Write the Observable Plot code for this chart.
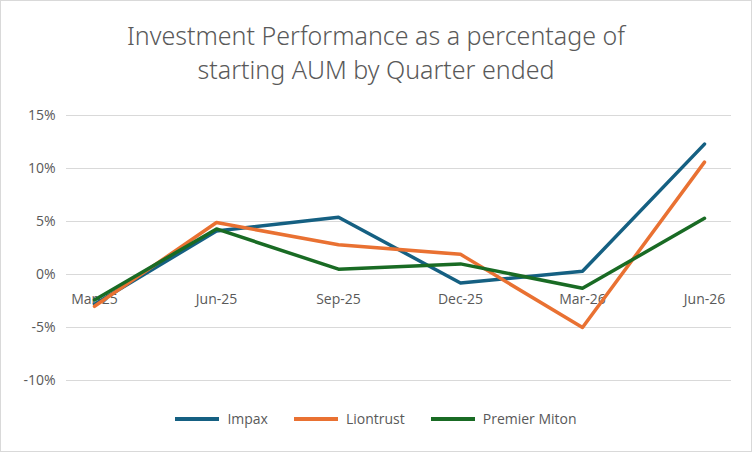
<!DOCTYPE html>
<html><head><meta charset="utf-8">
<script src="https://cdn.jsdelivr.net/npm/d3@7"></script>
<script src="https://cdn.jsdelivr.net/npm/@observablehq/plot@0.6"></script>
<style>
body{margin:0;font-family:"Open Sans",sans-serif;}
#c{width:750px;height:450px;border:1px solid #d9d9d9;background:#fff;position:relative;overflow:hidden}
#t{height:100px;text-align:center;color:#595959;font-size:25px;line-height:34px;padding-top:17px;box-sizing:border-box;font-family:"Noto Sans",sans-serif;font-weight:300}
#l{display:flex;justify-content:center;gap:26px;font-size:14px;color:#595959;margin-top:8px}
#l span{display:flex;align-items:center;gap:8px}
#l i{display:inline-block;width:44px;height:4px}
</style></head><body>
<div id="c"><div id="t">Investment Performance as a percentage of<br>starting AUM by Quarter ended</div><div id="p"></div><div id="l"></div></div>
<script>
const quarters=["Mar-25","Jun-25","Sep-25","Dec-25","Mar-26","Jun-26"];
const series=["Impax","Liontrust","Premier Miton"];
const colors=["#156082","#E97132","#196B24"];
const impax=[-2.8,4.1,5.4,-0.8,0.3,12.3];
const liontrust=[-3.0,4.9,2.8,1.9,-5.0,10.6];
const premier=[-2.4,4.3,0.5,1.0,-1.3,5.3];
const yTicks=[-10,-5,0,5,10,15];
const vals=[impax,liontrust,premier];
const data=series.flatMap((s,i)=>quarters.map((q,j)=>({s,q,v:vals[i][j]})));
const plot=Plot.plot({
  width:750,height:300,marginTop:14,marginBottom:21,marginLeft:65,marginRight:20,
  style:{fontFamily:"Open Sans, sans-serif",fontSize:"14px",color:"#595959"},
  x:{type:"point",domain:quarters,padding:0.21,axis:null},
  y:{domain:[-10,15],ticks:yTicks,tickFormat:d=>d+"%",tickSize:0,label:null,grid:false},
  color:{domain:series,range:colors},
  marks:[
    Plot.ruleY(yTicks.filter(d=>d!==0),{stroke:"#d9d9d9"}),
    Plot.ruleY([0],{stroke:"#d9d9d9"}),
    Plot.axisY({ticks:yTicks,tickFormat:d=>d+"%",tickSize:0,label:null,fontSize:14,dx:-2}),
    Plot.text(quarters,{x:d=>d,y:()=>0,dy:25,text:d=>d,fill:"#595959",fontSize:14}),
    Plot.line(data,{x:"q",y:"v",z:"s",stroke:"s",strokeWidth:3.5,curve:"linear"})
  ]
});
document.getElementById("p").append(plot);
document.getElementById("l").innerHTML=series.map((s,i)=>`<span><i style="background:${colors[i]}"></i>${s}</span>`).join("");
</script></body></html>
